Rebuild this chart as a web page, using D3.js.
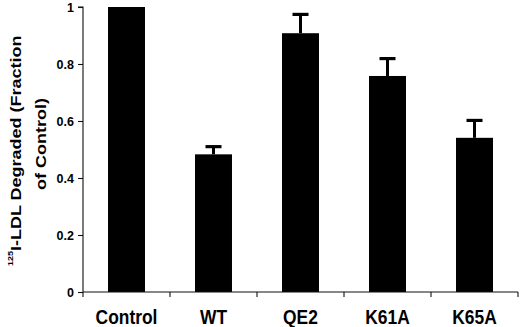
<!DOCTYPE html>
<html>
<head>
<meta charset="utf-8">
<script src="https://cdn.jsdelivr.net/npm/d3@7"></script>
<style>
  html, body { margin: 0; padding: 0; background: #fff; }
  svg { display: block; }
  text { font-family: "Liberation Sans", Arial, sans-serif; font-weight: bold; fill: #000; }
</style>
</head>
<body>
<svg id="chart" width="520" height="327"></svg>
<script>
const categories = ["Control", "WT", "QE2", "K61A", "K65A"];
const values = [1.0, 0.483, 0.908, 0.758, 0.541];
const errors = [0, 0.027, 0.066, 0.061, 0.061];
const yTicks = [0, 0.2, 0.4, 0.6, 0.8, 1];

const svg = d3.select("#chart");
const x0 = 83, x1 = 518, yTop = 7, yBot = 292;

const x = d3.scaleBand().domain(categories).range([x0, x1])
  .paddingInner(0.575).paddingOuter(0.2875);
const y = d3.scaleLinear().domain([0, 1]).range([yBot, yTop]);

// bars
svg.append("g").selectAll("rect").data(categories).join("rect")
  .attr("x", d => x(d))
  .attr("width", x.bandwidth())
  .attr("y", (d, i) => y(values[i]))
  .attr("height", (d, i) => y(0) - y(values[i]))
  .attr("fill", "#000");

// error bars
const eg = svg.append("g");
categories.forEach((c, i) => {
  if (!errors[i]) return;
  const cx = x(c) + x.bandwidth() / 2;
  const top = y(values[i] + errors[i]);
  eg.append("line").attr("x1", cx).attr("x2", cx)
    .attr("y1", y(values[i])).attr("y2", top)
    .attr("stroke", "#000").attr("stroke-width", 3);
  eg.append("line").attr("x1", cx - 8).attr("x2", cx + 8)
    .attr("y1", top).attr("y2", top)
    .attr("stroke", "#000").attr("stroke-width", 3.2);
});

// y axis
const yAxis = svg.append("g").attr("transform", `translate(${x0},0)`)
  .call(d3.axisLeft(y).tickValues(yTicks).tickSize(5).tickPadding(4)
    .tickFormat(d => d === 0 ? "0" : d === 1 ? "1" : d3.format(".1f")(d)));
yAxis.selectAll("path,line").attr("stroke", "#111").attr("stroke-width", 1.1);
yAxis.select(".domain").attr("d", `M-5,${yTop}H0V${yBot}`);
yAxis.selectAll("text").attr("font-size", 12.5).attr("font-family", "Liberation Sans, Arial, sans-serif")
  .attr("font-weight", "bold").attr("fill", "#000");

// x axis with ticks at band boundaries
const boundaries = d3.range(categories.length + 1).map(i => x0 + i * x.step());
const xAxis = svg.append("g");
xAxis.append("line").attr("x1", x0).attr("x2", x1).attr("y1", yBot).attr("y2", yBot)
  .attr("stroke", "#111").attr("stroke-width", 1.1);
xAxis.selectAll("line.tk").data(boundaries).join("line").attr("class", "tk")
  .attr("x1", d => d).attr("x2", d => d).attr("y1", yBot).attr("y2", yBot + 5)
  .attr("stroke", "#111").attr("stroke-width", 1.1);
xAxis.selectAll("text").data(categories).join("text")
  .attr("transform", d => `translate(${x(d) + x.bandwidth() / 2},324) scale(0.87,1)`)
  .attr("text-anchor", "middle")
  .attr("font-size", 20)
  .text(d => d);

// y title
const t1 = svg.append("text")
  .attr("transform", "translate(20.5,266) rotate(-90) scale(1,0.78)")
  .attr("text-anchor", "start")
  .attr("font-size", 18);
t1.append("tspan").attr("font-size", 9).attr("dy", -10).text("125");
t1.append("tspan").attr("dy", 10).text("I-LDL Degraded (Fraction");

svg.append("text")
  .attr("transform", "translate(46,144) rotate(-90) scale(1,0.78)")
  .attr("text-anchor", "middle")
  .attr("font-size", 18)
  .text("of Control)");
</script>
</body>
</html>
